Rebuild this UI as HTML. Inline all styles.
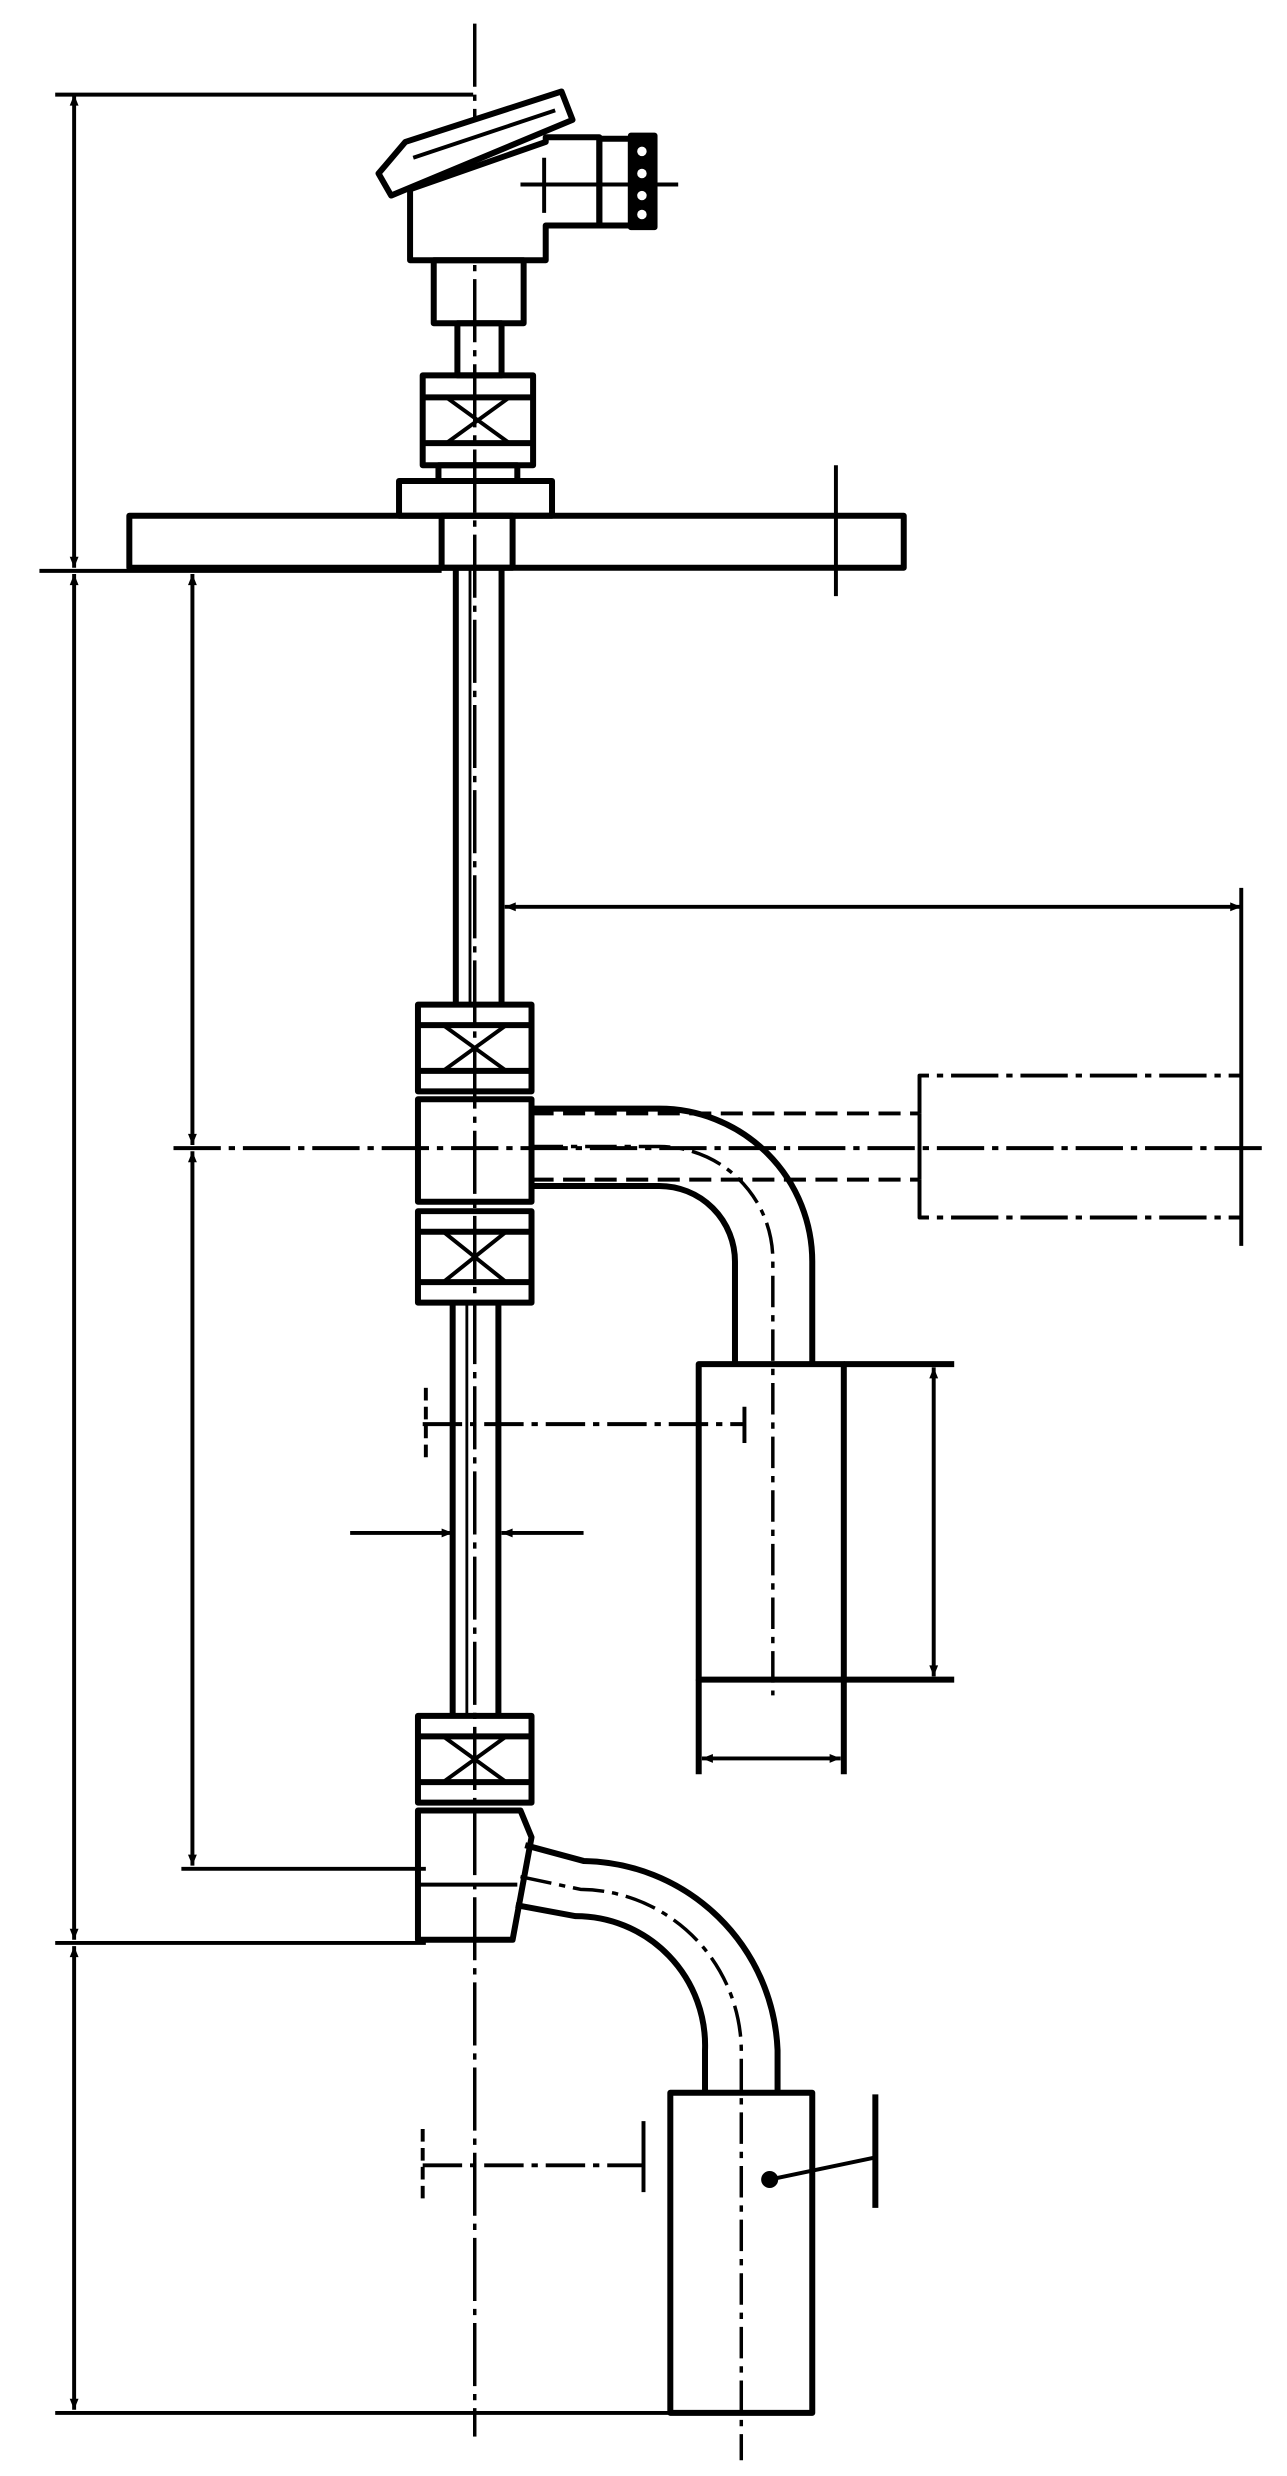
<!DOCTYPE html>
<html><head><style>html,body{margin:0;padding:0;background:#fff}svg{display:block}</style></head>
<body>
<svg width="1287" height="2476" viewBox="0 0 816 1570" preserveAspectRatio="none" xmlns="http://www.w3.org/2000/svg">
<defs>
<marker id="a" viewBox="0 0 10 10" refX="10" refY="5" markerWidth="14" markerHeight="7" orient="auto-start-reverse" markerUnits="userSpaceOnUse"><path d="M0,1 L10,5 L0,9z" fill="#000"/></marker>
</defs>
<g fill="none" stroke="#000" stroke-width="3.8" stroke-linejoin="round">
<line x1="301" y1="15" x2="301" y2="1545" stroke-width="2.2" stroke-dasharray="40,5,4,5"/>
<polygon points="240,110 257,90 356,58 363,76 248,124" fill="#fff"/>
<line x1="262" y1="100" x2="352" y2="70" stroke-width="2.5"/>
<polygon points="260,120 346,90 346,87 380,87 380,143 346,143 346,165 260,165" fill="#fff"/>
<rect x="380" y="88" width="20" height="55"/>
<rect x="400" y="86" width="15" height="58" fill="#000"/>
<circle cx="407" cy="96" r="3" fill="#fff" stroke="none"/><circle cx="407" cy="110" r="3" fill="#fff" stroke="none"/><circle cx="407" cy="124" r="3" fill="#fff" stroke="none"/><circle cx="407" cy="136" r="3" fill="#fff" stroke="none"/>
<line x1="330" y1="117" x2="430" y2="117" stroke-width="2.5"/>
<line x1="345" y1="100" x2="345" y2="135" stroke-width="2.5"/>
<rect x="275" y="165" width="57" height="40"/>
<rect x="290" y="205" width="28" height="33"/>
<rect x="268" y="238" width="70" height="57"/>
<line x1="268" y1="252" x2="338" y2="252"/><line x1="268" y1="281" x2="338" y2="281"/>
<line x1="283" y1="252" x2="323" y2="281" stroke-width="2.5"/><line x1="323" y1="252" x2="283" y2="281" stroke-width="2.5"/>
<rect x="278" y="295" width="50" height="10"/>
<rect x="253" y="305" width="97" height="22"/>
<rect x="82" y="327" width="491" height="33"/>
<rect x="280" y="327" width="45" height="33"/>
<line x1="530" y1="295" x2="530" y2="378" stroke-width="2.5"/>
<line x1="289" y1="360" x2="289" y2="637"/><line x1="318" y1="360" x2="318" y2="637"/>
<line x1="298" y1="360" x2="298" y2="637" stroke-width="1.8"/>
<rect x="265" y="637" width="72" height="55"/>
<line x1="265" y1="650" x2="337" y2="650"/><line x1="265" y1="679" x2="337" y2="679"/>
<line x1="281" y1="650" x2="321" y2="679" stroke-width="2.5"/><line x1="321" y1="650" x2="281" y2="679" stroke-width="2.5"/>
<rect x="265" y="697" width="72" height="65"/>
<rect x="265" y="768" width="72" height="58"/>
<line x1="265" y1="781" x2="337" y2="781"/><line x1="265" y1="813" x2="337" y2="813"/>
<line x1="281" y1="781" x2="321" y2="813" stroke-width="2.5"/><line x1="321" y1="781" x2="281" y2="813" stroke-width="2.5"/>
<line x1="287" y1="826" x2="287" y2="1088"/><line x1="316" y1="826" x2="316" y2="1088"/>
<line x1="296" y1="826" x2="296" y2="1088" stroke-width="1.8"/>
<rect x="265" y="1088" width="72" height="55"/>
<line x1="265" y1="1101" x2="337" y2="1101"/><line x1="265" y1="1130" x2="337" y2="1130"/>
<line x1="281" y1="1101" x2="321" y2="1130" stroke-width="2.5"/><line x1="321" y1="1101" x2="281" y2="1130" stroke-width="2.5"/>
<path d="M265,1148 L330,1148 L337,1165 L325,1230 L265,1230 Z"/>
<line x1="265" y1="1195" x2="328" y2="1195" stroke-width="2.5"/>
<path d="M337,703 L418,703 A97,97 0 0 1 515,800 L515,865"/>
<path d="M337,752 L418,752 A48,48 0 0 1 466,800 L466,865"/>
<path d="M337,727 L418,727 A72,72 0 0 1 490,800 L490,1075" stroke-width="2.2" stroke-dasharray="20,5,4,5"/>
<rect x="443" y="865" width="92" height="200"/>
<line x1="535" y1="865" x2="605" y2="865"/><line x1="535" y1="1065" x2="605" y2="1065"/>
<line x1="443" y1="1065" x2="443" y2="1125"/><line x1="535" y1="1065" x2="535" y2="1125"/>
<path d="M337,706 L583,706 M337,748 L583,748" stroke-width="2.5" stroke-dasharray="14,6"/>
<path d="M583,706 L583,682 L787,682 M583,748 L583,772 L787,772" stroke-width="2.5" stroke-dasharray="30,5,4,5"/>
<line x1="583" y1="706" x2="583" y2="748" stroke-width="2.5"/>
<path d="M333,1170 L370,1180 A125,125 0 0 1 493,1300 L493,1327"/>
<path d="M327,1208 L365,1215 A82,82 0 0 1 447,1300 L447,1327"/>
<path d="M330,1190 L368,1198 A103,103 0 0 1 470,1300 L470,1560" stroke-width="2.2" stroke-dasharray="20,5,4,5"/>
<rect x="425" y="1327" width="90" height="203"/>
<line x1="488" y1="1382" x2="555" y2="1368" stroke-width="2.5"/>
<circle cx="488" cy="1382" r="3.5" fill="#000"/>
<line x1="555" y1="1328" x2="555" y2="1400"/>
<g stroke-width="2.5">
<line x1="35" y1="60" x2="300" y2="60"/>
<line x1="25" y1="362" x2="280" y2="362"/>
<line x1="35" y1="1232" x2="270" y2="1232"/>
<line x1="35" y1="1530" x2="425" y2="1530"/>
<line x1="110" y1="728" x2="800" y2="728" stroke-dasharray="30,5,4,5"/>
<line x1="115" y1="1185" x2="270" y2="1185"/>
<line x1="47" y1="60" x2="47" y2="360" marker-start="url(#a)" marker-end="url(#a)"/>
<line x1="47" y1="364" x2="47" y2="1230" marker-start="url(#a)" marker-end="url(#a)"/>
<line x1="47" y1="1234" x2="47" y2="1528" marker-start="url(#a)" marker-end="url(#a)"/>
<line x1="122" y1="364" x2="122" y2="726" marker-start="url(#a)" marker-end="url(#a)"/>
<line x1="122" y1="730" x2="122" y2="1183" marker-start="url(#a)" marker-end="url(#a)"/>
<line x1="320" y1="575" x2="787" y2="575" marker-start="url(#a)" marker-end="url(#a)"/>
<line x1="787" y1="563" x2="787" y2="790"/>
<line x1="592" y1="867" x2="592" y2="1063" marker-start="url(#a)" marker-end="url(#a)"/>
<line x1="445" y1="1115" x2="533" y2="1115" marker-start="url(#a)" marker-end="url(#a)"/>
<line x1="222" y1="972" x2="287" y2="972" marker-end="url(#a)"/>
<line x1="370" y1="972" x2="318" y2="972" marker-end="url(#a)"/>
<line x1="268" y1="903" x2="472" y2="903" stroke-dasharray="25,5,4,5"/>
<line x1="270" y1="880" x2="270" y2="925" stroke-dasharray="8,4"/>
<line x1="472" y1="892" x2="472" y2="915"/>
<line x1="268" y1="1373" x2="408" y2="1373" stroke-dasharray="25,5,4,5"/>
<line x1="268" y1="1350" x2="268" y2="1395" stroke-dasharray="8,4"/>
<line x1="408" y1="1345" x2="408" y2="1390"/>
</g>
</g>
</svg>
</body></html>
